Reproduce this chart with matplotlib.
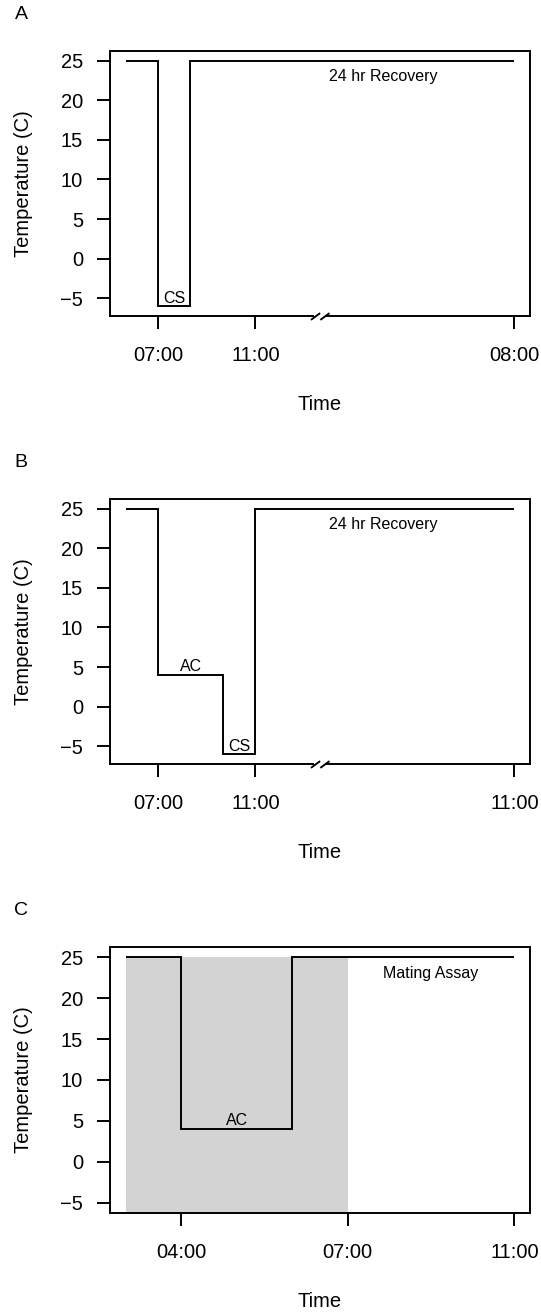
import matplotlib
matplotlib.use("Agg")
import matplotlib.pyplot as plt
from matplotlib.transforms import blended_transform_factory

plt.rcParams['font.family'] = ['Liberation Sans', 'DejaVu Sans']

# === Data ===
# panel A: cold shock only
a_edges = [5.64, 7.0, 8.32, 21.7]
a_temps = [25, -6, 25]
a_ticks = [7.0, 11.0, 21.7]
a_ticklabels = ["07:00", "11:00", "08:00"]
a_notes = [("CS", 7.66, -6, "above"), ("24 hr Recovery", 16.3, 23, "center")]

# panel B: acclimation then cold shock
b_edges = [5.64, 7.0, 9.68, 11.0, 21.7]
b_temps = [25, 4, -6, 25]
b_ticks = [7.0, 11.0, 21.7]
b_ticklabels = ["07:00", "11:00", "11:00"]
b_notes = [("AC", 8.34, 4, "above"), ("CS", 10.34, -6, "above"),
           ("24 hr Recovery", 16.3, 23, "center")]

# panel C: acclimation then mating assay
c_edges = [3.0, 4.0, 6.0, 10.0]
c_temps = [25, 4, 25]
c_ticks = [4.0, 7.0, 10.0]
c_ticklabels = ["04:00", "07:00", "11:00"]
c_notes = [("AC", 5.0, 4, "above"), ("Mating Assay", 8.5, 23, "center")]
c_shade = (3.0, 7.0, 25)

break_x = 13.68
temp_range_ab = (-6, 25)
temp_range_c = (-5, 25)

# === Layout (pixels) ===
W, H = 541, 1314
AX_LEFT, AX_W, AX_H = 110, 420, 265.3


def draw_break(ax, xb):
    ppu = ax.bbox.width / (ax.get_xlim()[1] - ax.get_xlim()[0])
    trans = blended_transform_factory(ax.transData, ax.transAxes)
    fy = 1.0 / ax.bbox.height
    # white gap in the spine
    ax.fill_between([xb - 6 / ppu, xb + 5.5 / ppu], -3 * fy, 3 * fy,
                    color="white", lw=0, transform=trans, clip_on=False, zorder=5)
    for off in (-4.7, 4.7):
        cx = xb + off / ppu
        ax.plot([cx - 3.8 / ppu, cx + 3.8 / ppu], [-3.3 * fy, 2.3 * fy],
                color="black", lw=1.4, transform=trans, clip_on=False, zorder=6)


def panel(fig, top_px, letter, edges, temps, ticks, ticklabels, notes,
          trange, brk=None, shade=None):
    bottom = (H - top_px - AX_H) / H
    ax = fig.add_axes([AX_LEFT / W, bottom, AX_W / W, AX_H / H])

    xr = edges[-1] - edges[0]
    ax.set_xlim(edges[0] - 0.04 * xr, edges[-1] + 0.04 * xr)
    yr = trange[1] - trange[0]
    ax.set_ylim(trange[0] - 0.04 * yr, trange[1] + 0.04 * yr)

    if shade is not None:
        ax.fill_between([shade[0], shade[1]], ax.get_ylim()[0], shade[2],
                        color="#d3d3d3", lw=0, zorder=0)

    ax.stairs(temps, edges, baseline=None, color="black", lw=1.4, zorder=2)

    for txt, x, y, where in notes:
        if where == "above":
            ax.annotate(txt, (x, y), xytext=(0, 2.6), textcoords="offset points",
                        ha="center", va="baseline", fontsize=11.5)
        else:
            ax.text(x, y, txt, ha="center", va="center", fontsize=11.5)

    ax.set_xticks(ticks)
    ax.set_xticklabels(ticklabels)
    ax.set_yticks([-5, 0, 5, 10, 15, 20, 25])
    ax.tick_params(axis="both", direction="out", length=9.4, width=1.4,
                   labelsize=14.5)
    ax.tick_params(axis="x", pad=12.5)
    ax.tick_params(axis="y", pad=10)
    for s in ax.spines.values():
        s.set_linewidth(1.4)

    ax.set_xlabel("Time", fontsize=14.5, va="center")
    ax.xaxis.set_label_coords(0.5, -89 / AX_H)
    ax.set_ylabel("Temperature (C)", fontsize=14.5, va="center")
    ax.yaxis.set_label_coords((23.5 - AX_LEFT) / AX_W, 0.5)

    fig.text(21 / W, 1 - (top_px - 36.5) / H, letter, fontsize=14,
             ha="center", va="center")

    if brk is not None:
        draw_break(ax, brk)
    return ax


fig = plt.figure(figsize=(W / 100, H / 100), dpi=100)

panel(fig, 50.7, "A", a_edges, a_temps, a_ticks, a_ticklabels, a_notes,
      temp_range_ab, brk=break_x)
panel(fig, 498.7, "B", b_edges, b_temps, b_ticks, b_ticklabels, b_notes,
      temp_range_ab, brk=break_x)
panel(fig, 947.3, "C", c_edges, c_temps, c_ticks, c_ticklabels, c_notes,
      temp_range_c, shade=c_shade)

fig.savefig("out.png", dpi=100)
